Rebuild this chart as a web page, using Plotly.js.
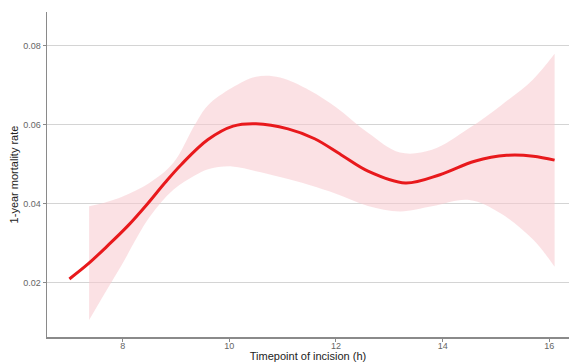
<!DOCTYPE html>
<html>
<head>
<meta charset="utf-8">
<script src="https://cdn.plot.ly/plotly-3.0.1.min.js"></script>
<style>html,body{margin:0;padding:0;background:#fff;}#chart{width:569px;height:362px;}</style>
</head>
<body>
<div id="chart"></div>
<script>
// Fitted curve
const lineX = [7.0, 7.35, 7.7, 8.1, 8.45, 8.8, 9.1, 9.6, 10.07, 10.5, 11.1, 11.6, 12.1, 12.6, 13.3, 13.95, 14.6, 15.2, 15.7, 16.1];
const lineY = [0.021, 0.0248, 0.0292, 0.0345, 0.0398, 0.0455, 0.0500, 0.0563, 0.0597, 0.0603, 0.0590, 0.0565, 0.0524, 0.0483, 0.0453, 0.0474, 0.0508, 0.0523, 0.0521, 0.0511];
// Confidence band
const bandX = [7.37, 7.7, 8.0, 8.5, 8.95, 9.35, 9.6, 10.05, 10.5, 10.95, 11.5, 12.0, 12.6, 13.2, 13.8, 14.5, 15.1, 15.7, 16.1];
const bandUpper = [0.0394, 0.0405, 0.0419, 0.0453, 0.0504, 0.0600, 0.0650, 0.0694, 0.0722, 0.0720, 0.0688, 0.0645, 0.0580, 0.0530, 0.0537, 0.0592, 0.0650, 0.0716, 0.0780];
const bandLower = [0.0106, 0.0182, 0.0250, 0.0366, 0.0436, 0.0472, 0.0488, 0.0495, 0.0483, 0.0468, 0.0448, 0.0426, 0.0395, 0.0381, 0.0394, 0.0410, 0.0375, 0.0309, 0.0241];
const xTicks = [8, 10, 12, 14, 16];
const yTicks = [0.02, 0.04, 0.06, 0.08];

const traces = [
  {x: bandX, y: bandLower, type: 'scatter', mode: 'lines', line: {width: 0, shape: 'spline'}, hoverinfo: 'skip', showlegend: false},
  {x: bandX, y: bandUpper, type: 'scatter', mode: 'lines', line: {width: 0, shape: 'spline'}, fill: 'tonexty', fillcolor: 'rgba(248,200,205,0.55)', hoverinfo: 'skip', showlegend: false},
  {x: lineX, y: lineY, type: 'scatter', mode: 'lines', line: {color: '#e8191c', width: 3, shape: 'spline'}, showlegend: false}
];

const layout = {
  width: 569, height: 362,
  margin: {l: 47, r: 0, t: 12, b: 25},
  paper_bgcolor: '#fff', plot_bgcolor: '#fff',
  font: {family: 'Liberation Sans, Arial, sans-serif'},
  xaxis: {
    range: [6.58, 16.37],
    tickvals: xTicks, ticktext: xTicks.map(String),
    showgrid: false, zeroline: false,
    showline: true, linecolor: '#8a8a8a', linewidth: 1.5,
    ticks: 'outside', ticklen: 3, tickcolor: '#8a8a8a', tickwidth: 1,
    ticklabelstandoff: -3,
    tickfont: {size: 9, color: '#666'},
    title: {text: 'Timepoint of incision (h)', font: {size: 11, color: '#222'}, standoff: 6}
  },
  yaxis: {
    range: [0.0063, 0.0886],
    tickvals: yTicks, ticktext: yTicks.map(v => v.toFixed(2)),
    showgrid: true, gridcolor: '#d4d4d4', gridwidth: 1, zeroline: false,
    showline: true, linecolor: '#8a8a8a', linewidth: 1.5,
    ticks: 'outside', ticklen: 3, tickcolor: '#8a8a8a', tickwidth: 1,
    tickfont: {size: 9, color: '#666'},
    title: {text: '1-year mortality rate', font: {size: 11, color: '#222'}, standoff: 2}
  }
};

Plotly.newPlot('chart', traces, layout, {displayModeBar: false, staticPlot: true});
</script>
</body>
</html>
